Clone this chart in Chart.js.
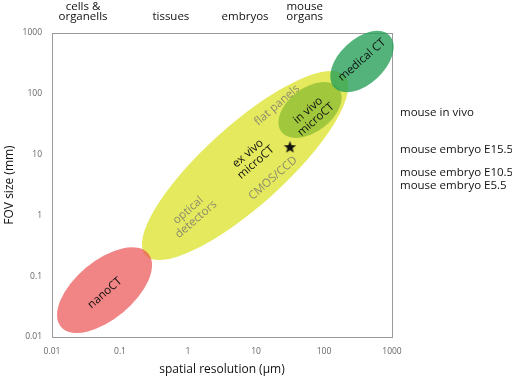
<!DOCTYPE html>
<html>
<head>
<meta charset="utf-8">
<script src="https://cdn.jsdelivr.net/npm/chart.js@4.4.0/dist/chart.umd.min.js"></script>
<style>
  html, body { margin: 0; padding: 0; background: #fff; }
  #wrap { width: 512px; height: 379px; }
</style>
</head>
<body>
<div id="wrap"><canvas id="fov-chart"></canvas></div>
<script>
// axis ticks (log decades)
const xTicks = [0.01, 0.1, 1, 10, 100, 1000];
const yTicks = [0.01, 0.1, 1, 10, 100, 1000];

// imaging regions: long-axis end points (resolution µm, FOV mm) and width/length ratio
const regionNames = ['optical detectors', 'nanoCT', 'in vivo microCT', 'medical CT'];
const regionStart = [[0.237, 0.221], [0.0135, 0.0148], [23.5, 23.8], [141, 127]];
const regionEnd = [[201, 198], [0.26, 0.237], [165, 123], [929, 905]];
const regionRatio = [0.30, 0.51, 0.61, 0.59];

// labels inside the plot
const labelText = ['nanoCT', 'optical\ndetectors', 'ex vivo\nmicroCT', 'CMOS/CCD', 'flat panels', 'in vivo\nmicroCT', 'medical CT'];
const labelX = [0.060, 1.15, 8.7, 17.8, 20.4, 66.7, 362];
const labelY = [0.053, 1.02, 8.8, 4.1, 65, 44.8, 360];

// sample marker
const starX = [31.6];
const starY = [13.5];

// category labels above the plot
const topLabels = ['cells &\norganells', 'tissues', 'embryos', 'mouse\norgans'];
const topLabelX = [0.0286, 0.56, 6.9, 52];

// specimen labels right of the plot
const sideLabels = ['mouse in vivo', 'mouse embryo E15.5', 'mouse embryo E10.5', 'mouse embryo E5.5'];
const sideLabelY = [48, 11.9, 4.98, 3.09];

const FONT = '"Open Sans", "Noto Sans", sans-serif';
const regionColors = ['rgba(220,225,40,0.75)', 'rgba(235,80,80,0.7)', 'rgba(120,180,40,0.62)', 'rgba(40,160,90,0.8)'];
const grayLabels = ['optical\ndetectors', 'CMOS/CCD', 'flat panels'];

function makeStar(size) {
    const c = document.createElement('canvas');
    c.width = c.height = size;
    const g = c.getContext('2d');
    g.beginPath();
    for (let i = 0; i < 10; i++) {
        const r = i % 2 ? size * 0.21 : size * 0.5;
        const t = -Math.PI / 2 + i * Math.PI / 5;
        g.lineTo(size / 2 + r * Math.cos(t), size * 0.55 + r * Math.sin(t));
    }
    g.closePath();
    g.fillStyle = '#111';
    g.fill();
    return c;
}

function drawLines(ctx, text, x, y, lineH) {
    const lines = text.split('\n');
    lines.forEach((l, i) => {
        ctx.fillText(l, x, y + (i - (lines.length - 1) / 2) * lineH);
    });
}

const decorations = {
    id: 'decorations',
    beforeDatasetsDraw(chart) {
        const { ctx, chartArea: a, scales: { x, y } } = chart;
        ctx.save();
        ctx.strokeStyle = '#9a9a9a';
        ctx.lineWidth = 1;
        ctx.strokeRect(a.left + 0.5, a.top + 0.5, a.right - a.left, a.bottom - a.top);

        regionNames.forEach((name, i) => {
            const x1 = x.getPixelForValue(regionStart[i][0]), y1 = y.getPixelForValue(regionStart[i][1]);
            const x2 = x.getPixelForValue(regionEnd[i][0]), y2 = y.getPixelForValue(regionEnd[i][1]);
            const half = Math.hypot(x2 - x1, y2 - y1) / 2;
            ctx.beginPath();
            ctx.ellipse((x1 + x2) / 2, (y1 + y2) / 2, half, half * regionRatio[i], Math.atan2(y2 - y1, x2 - x1), 0, Math.PI * 2);
            ctx.fillStyle = regionColors[i];
            ctx.fill();
        });

        ctx.textAlign = 'center';
        ctx.textBaseline = 'middle';
        ctx.font = '11.5px ' + FONT;
        labelText.forEach((t, i) => {
            ctx.save();
            ctx.translate(x.getPixelForValue(labelX[i]), y.getPixelForValue(labelY[i]));
            ctx.rotate(-41 * Math.PI / 180);
            ctx.fillStyle = grayLabels.includes(t) ? '#8c8c6c' : '#111';
            drawLines(ctx, t, 0, 0, 12);
            ctx.restore();
        });
        ctx.restore();
    },
    afterDraw(chart) {
        const { ctx, chartArea: a, scales: { x, y } } = chart;
        ctx.save();
        ctx.fillStyle = '#111';
        ctx.font = '11.5px ' + FONT;
        ctx.textAlign = 'center';
        ctx.textBaseline = 'middle';
        topLabels.forEach((t, i) => {
            const lines = t.split('\n');
            lines.forEach((l, j) => {
                ctx.fillText(l, x.getPixelForValue(topLabelX[i]), a.top - 16 - (lines.length - 1 - j) * 10);
            });
        });
        ctx.textAlign = 'left';
        sideLabels.forEach((t, i) => {
            ctx.fillText(t, a.right + 8, y.getPixelForValue(sideLabelY[i]));
        });
        ctx.restore();
    }
};

const tickFont = { family: FONT, size: 8.5 };
const titleFont = { family: FONT, size: 12 };

new Chart(document.getElementById('fov-chart'), {
    type: 'scatter',
    data: {
        datasets: [{
            label: 'sample',
            data: starX.map((v, i) => ({ x: v, y: starY[i] })),
            pointStyle: makeStar(13),
            pointRadius: 6
        }]
    },
    options: {
        responsive: true,
        maintainAspectRatio: false,
        animation: false,
        layout: { padding: { top: 33, right: 120, left: 0, bottom: 0 } },
        plugins: { legend: { display: false }, tooltip: { enabled: false } },
        scales: {
            x: {
                type: 'logarithmic',
                min: 0.01,
                max: 1000,
                afterBuildTicks: s => { s.ticks = xTicks.map(v => ({ value: v })); },
                afterFit: s => { s.height = 42; },
                grid: { display: false, drawTicks: false },
                border: { display: false },
                ticks: { callback: v => String(v), font: tickFont, color: '#666', padding: 9, maxRotation: 0, autoSkip: false },
                title: { display: true, text: 'spatial resolution (µm)', font: titleFont, color: '#111', padding: { top: 0, bottom: 2 } }
            },
            y: {
                type: 'logarithmic',
                min: 0.01,
                max: 1000,
                afterBuildTicks: s => { s.ticks = yTicks.map(v => ({ value: v })); },
                afterFit: s => { s.width = 52; },
                grid: { display: false, drawTicks: false },
                border: { display: false },
                ticks: { callback: v => String(v), font: tickFont, color: '#666', padding: 10, autoSkip: false },
                title: { display: true, text: 'FOV size (mm)', font: titleFont, color: '#111', padding: { top: 2, bottom: 0 } }
            }
        }
    },
    plugins: [decorations]
});
</script>
</body>
</html>
